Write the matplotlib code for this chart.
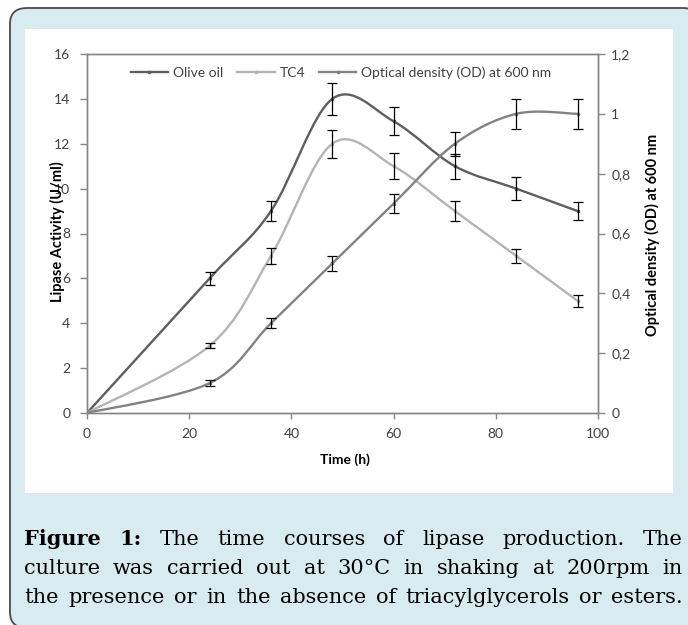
import matplotlib

matplotlib.use("Agg")
import matplotlib.pyplot as plt  # noqa: E402
import numpy as np  # noqa: E402
from matplotlib.lines import Line2D  # noqa: E402
from matplotlib.patches import FancyBboxPatch, PathPatch, Rectangle  # noqa: E402
from matplotlib.path import Path  # noqa: E402

# ---------------------------------------------------------------------------
# Data
# ---------------------------------------------------------------------------
TIME_H = [0, 24, 36, 48, 60, 72, 84, 96]

OLIVE_OIL = [0, 6, 9, 14, 13, 11, 10, 9]
OLIVE_OIL_ERR = [0, 0.3, 0.45, 0.7, 0.62, 0.55, 0.5, 0.42]

TC4 = [0, 3, 7, 12, 11, 9, 7, 5]
TC4_ERR = [0, 0.1, 0.37, 0.63, 0.57, 0.45, 0.33, 0.27]

OD_600 = [0, 0.1, 0.3, 0.5, 0.7, 0.9, 1.0, 1.0]
OD_600_ERR = [0, 0.01, 0.017, 0.026, 0.033, 0.04, 0.05, 0.05]

LEFT_TICKS = [0, 2, 4, 6, 8, 10, 12, 14, 16]
RIGHT_TICKS = [0, 0.2, 0.4, 0.6, 0.8, 1.0, 1.2]
RIGHT_TICK_LABELS = ["0", "0,2", "0,4", "0,6", "0,8", "1", "1,2"]
X_TICKS = [0, 20, 40, 60, 80, 100]

CAPTION_LINES = [
    [("Figure", True), ("1:", True), ("The", False), ("time", False),
     ("courses", False), ("of", False), ("lipase", False),
     ("production.", False), ("The", False)],
    [("culture", False), ("was", False), ("carried", False), ("out", False),
     ("at", False), ("30°C", False), ("in", False), ("shaking", False),
     ("at", False), ("200rpm", False), ("in", False)],
    [("the", False), ("presence", False), ("or", False), ("in", False),
     ("the", False), ("absence", False), ("of", False),
     ("triacylglycerols", False), ("or", False), ("esters.", False)],
]

OLIVE_COLOR = "#5e5e5e"
TC4_COLOR = "#b4b4b4"
OD_COLOR = "#828282"
AXIS_GRAY = "#868686"
TEXT_GRAY = "#404040"

W, H = 688, 625
plt.rcParams["font.family"] = ["Lato", "DejaVu Sans"]


def smooth_path(xs, ys):
    """Excel-style smoothed line: cubic Bezier through every data point."""
    pts = np.column_stack([xs, ys]).astype(float)
    n = len(pts)
    verts = [pts[0]]
    codes = [Path.MOVETO]
    for i in range(n - 1):
        p0 = pts[max(i - 1, 0)]
        p1, p2 = pts[i], pts[i + 1]
        p3 = pts[min(i + 2, n - 1)]
        verts += [p1 + (p2 - p0) / 6.0, p2 - (p3 - p1) / 6.0, p2]
        codes += [Path.CURVE4] * 3
    return Path(verts, codes)


def draw_series(ax, xs, ys, err, color):
    ax.add_patch(PathPatch(smooth_path(xs, ys), facecolor="none",
                           edgecolor=color, lw=1.7, zorder=3))
    ax.plot(xs, ys, ls="none", marker="s", ms=2.0, color=color, zorder=4)
    ax.errorbar(xs[1:], ys[1:], yerr=err[1:], fmt="none", ecolor="black",
                elinewidth=0.9, capsize=3.5, capthick=0.9, zorder=5)


def px(x, y):
    return x / W, 1 - y / H


fig = plt.figure(figsize=(W / 100, H / 100), dpi=100)

# outer light-blue frame and white chart panel
fig.patches.append(FancyBboxPatch(
    px(10, 628), (700 - 10) / W, (628 - 8) / H,
    boxstyle="round,pad=0,rounding_size=0.025", transform=fig.transFigure,
    facecolor="#d8ebf1", edgecolor="#4a4a4a", lw=1.3, zorder=-3))
fig.patches.append(Rectangle(
    px(25, 493), (673 - 25) / W, (493 - 29) / H, transform=fig.transFigure,
    facecolor="white", edgecolor="none", zorder=-2))

ax = fig.add_axes([87 / W, 1 - 413 / H, (598 - 87) / W, (413 - 54) / H])
ax.set_facecolor("none")
ax2 = ax.twinx()

draw_series(ax, TIME_H, OLIVE_OIL, OLIVE_OIL_ERR, OLIVE_COLOR)
draw_series(ax, TIME_H, TC4, TC4_ERR, TC4_COLOR)
draw_series(ax2, TIME_H, OD_600, OD_600_ERR, OD_COLOR)

ax.set_xlim(0, 100)
ax.set_ylim(0, 16)
ax2.set_ylim(0, 1.2)
ax.set_xticks(X_TICKS)
ax.set_yticks(LEFT_TICKS)
ax2.set_yticks(RIGHT_TICKS)
ax2.set_yticklabels(RIGHT_TICK_LABELS)

for a in (ax, ax2):
    for s in a.spines.values():
        s.set_color(AXIS_GRAY)
        s.set_linewidth(1.0)
ax.tick_params(axis="x", direction="out", length=4, width=1,
               color=AXIS_GRAY, labelcolor=TEXT_GRAY, labelsize=10, pad=7)
ax.tick_params(axis="y", direction="out", length=5, width=1,
               color=AXIS_GRAY, labelcolor=TEXT_GRAY, labelsize=10, pad=7)
ax2.tick_params(axis="y", direction="out", length=5, width=1,
                color=AXIS_GRAY, labelcolor=TEXT_GRAY, labelsize=10, pad=4.5)

handles = [
    Line2D([], [], color=OLIVE_COLOR, lw=1.7, marker="s", ms=2.0),
    Line2D([], [], color=TC4_COLOR, lw=1.7, marker="s", ms=2.0),
    Line2D([], [], color=OD_COLOR, lw=1.7, marker="s", ms=2.0),
]
ax2.legend(handles, ["Olive oil", "TC4", "Optical density (OD) at 600 nm"],
           loc="center", bbox_to_anchor=(0.497, 0.947), ncol=3,
           frameon=False, fontsize=10, handlelength=2.7, handletextpad=0.35,
           columnspacing=1.0, labelcolor=TEXT_GRAY)

fig.text(*px(57, 232), "Lipase Activity (U/ml)", rotation=90, ha="center",
         va="center", fontsize=10.5, fontweight="bold", color="black")
fig.text(*px(652, 235), "Optical density (OD) at 600 nm", rotation=90,
         ha="center", va="center", fontsize=10.5, fontweight="bold",
         color="black")
fig.text(*px(345, 460), "Time (h)", ha="center", va="center", fontsize=10,
         fontweight="bold", color="black")

# justified caption
renderer = fig.canvas.get_renderer()
x_left, x_right = 24, 683
for line, base_y in zip(CAPTION_LINES, [545, 574, 603]):
    texts = [fig.text(0, 1 - base_y / H, word, family="DejaVu Serif",
                      fontsize=15, fontweight="bold" if bold else "normal",
                      va="baseline", ha="left", color="black")
             for word, bold in line]
    widths = [t.get_window_extent(renderer).width for t in texts]
    gap = (x_right - x_left - sum(widths)) / (len(texts) - 1)
    x = x_left
    for t, w in zip(texts, widths):
        t.set_x(x / W)
        x += w + gap

fig.savefig("out.png", dpi=100)
